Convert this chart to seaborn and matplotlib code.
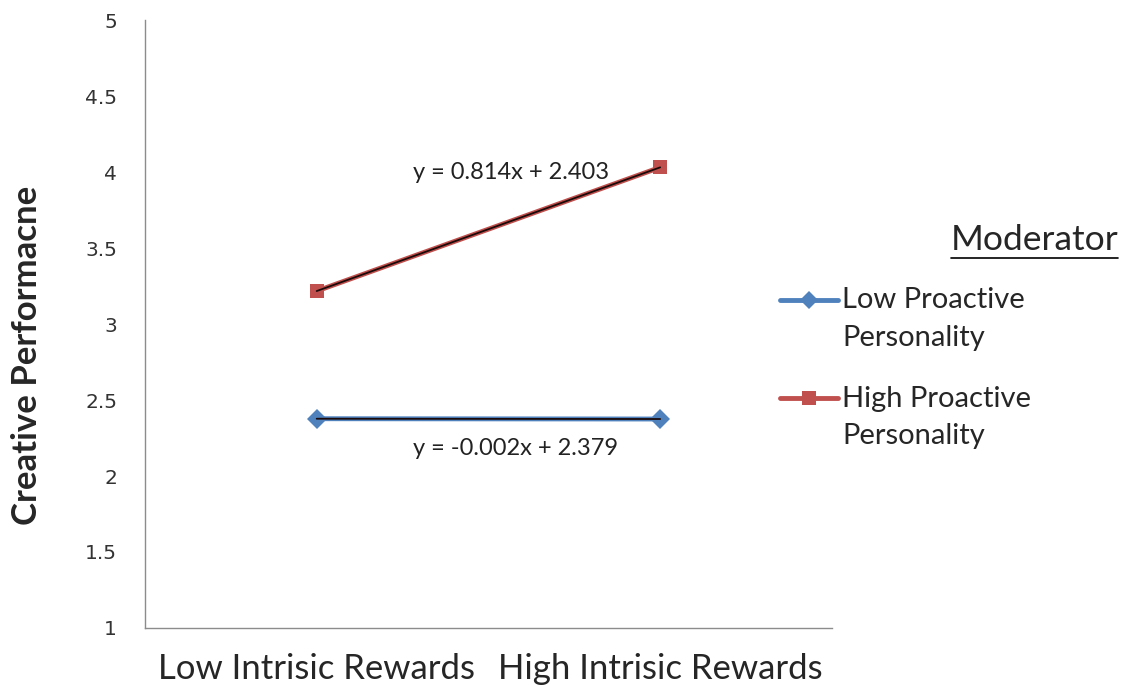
import numpy as np
import pandas as pd
import matplotlib
matplotlib.use("Agg")
import matplotlib.pyplot as plt
import seaborn as sns
from matplotlib.lines import Line2D

# datos
categorias = ["Low Intrisic Rewards", "High Intrisic Rewards"]
series = ["Low Proactive Personality", "High Proactive Personality"]
bajo = [2.377, 2.375]
alto = [3.217, 4.031]
pendientes = [-0.002, 0.814]
interceptos = [2.379, 2.403]
ecuaciones = ["y = -0.002x + 2.379", "y = 0.814x + 2.403"]

sns.set_style("white")
plt.rcParams["font.family"] = ["Lato", "DejaVu Sans"]

colores = ["#4F81BD", "#C0504D"]
marcadores = ["D", "s"]

fig = plt.figure(figsize=(11.28, 6.92), dpi=100)
ax = fig.add_axes([0.1285, 0.0925, 0.609, 0.8785])

x = np.arange(len(categorias))
for i, (nombre, vals) in enumerate(zip(series, [bajo, alto])):
    sns.lineplot(x=x, y=vals, ax=ax, color=colores[i], marker=marcadores[i],
                 markersize=10 if i == 0 else 10.5, markeredgewidth=0,
                 linewidth=3.5, label=nombre.replace("Proactive ", "Proactive\n"))
    # linea de tendencia (excel usa x = 1, 2)
    xt = np.array([1, 2])
    yt = pendientes[i] * xt + interceptos[i]
    ax.plot(x, yt, color="#1a0a0a", linewidth=1.3, zorder=3)

ax.text(0.565, 4.0, ecuaciones[1], fontsize=17, ha="center", va="center", color="#222222")
ax.text(0.58, 2.18, ecuaciones[0], fontsize=17, ha="center", va="center", color="#222222")

ax.set_xlim(-0.5, 1.5)
ax.set_ylim(1, 5)
ax.set_yticks(np.arange(1, 5.01, 0.5))
ax.set_yticklabels(["1", "1.5", "2", "2.5", "3", "3.5", "4", "4.5", "5"])
ax.tick_params(axis="y", labelsize=14.5, labelfontfamily="DejaVu Sans", labelcolor="#333333")
ax.set_xticks([-0.5, 0.5, 1.5])
ax.set_xticklabels([])
ax.set_xticks(x, minor=True)
ax.set_xticklabels(categorias, minor=True, fontsize=25)
ax.tick_params(axis="x", which="minor", length=0, pad=18)
ax.tick_params(axis="x", which="major", length=7, width=1, color="#8c8c8c", direction="out")
ax.tick_params(axis="y", length=6, width=1, color="#8c8c8c", direction="out", pad=14)
ax.set_xlabel("")
ax.set_ylabel("Creative Performacne", fontsize=25, fontweight="bold")
ax.yaxis.set_label_coords(-0.148, 0.449)

for s in ["top", "right"]:
    ax.spines[s].set_visible(False)
for s in ["left", "bottom"]:
    ax.spines[s].set_color("#8c8c8c")
    ax.spines[s].set_linewidth(1)

handles, labels = ax.get_legend_handles_labels()
leg = ax.legend(handles, labels, loc="upper left", bbox_to_anchor=(0.668, 0.623),
                bbox_transform=fig.transFigure, frameon=False, fontsize=21,
                handlelength=2.0, handletextpad=0.15, labelspacing=1.2, markerscale=0.9)
for txt in leg.get_texts():
    txt.set_linespacing(1.55)
# subir el simbolo a la primera linea del texto
for h in leg.legend_handles:
    h.set_ydata(np.asarray(h.get_ydata()) + 14)

t = fig.text(0.9915, 0.653, "Moderator", fontsize=25.5, ha="right", va="center")
fig.canvas.draw()
bb = t.get_window_extent().transformed(fig.transFigure.inverted())
fig.add_artist(Line2D([bb.x0, bb.x1], [bb.y0 - 0.002, bb.y0 - 0.002], color="black",
                      linewidth=1.2, transform=fig.transFigure))

fig.savefig("out.png", dpi=100)
